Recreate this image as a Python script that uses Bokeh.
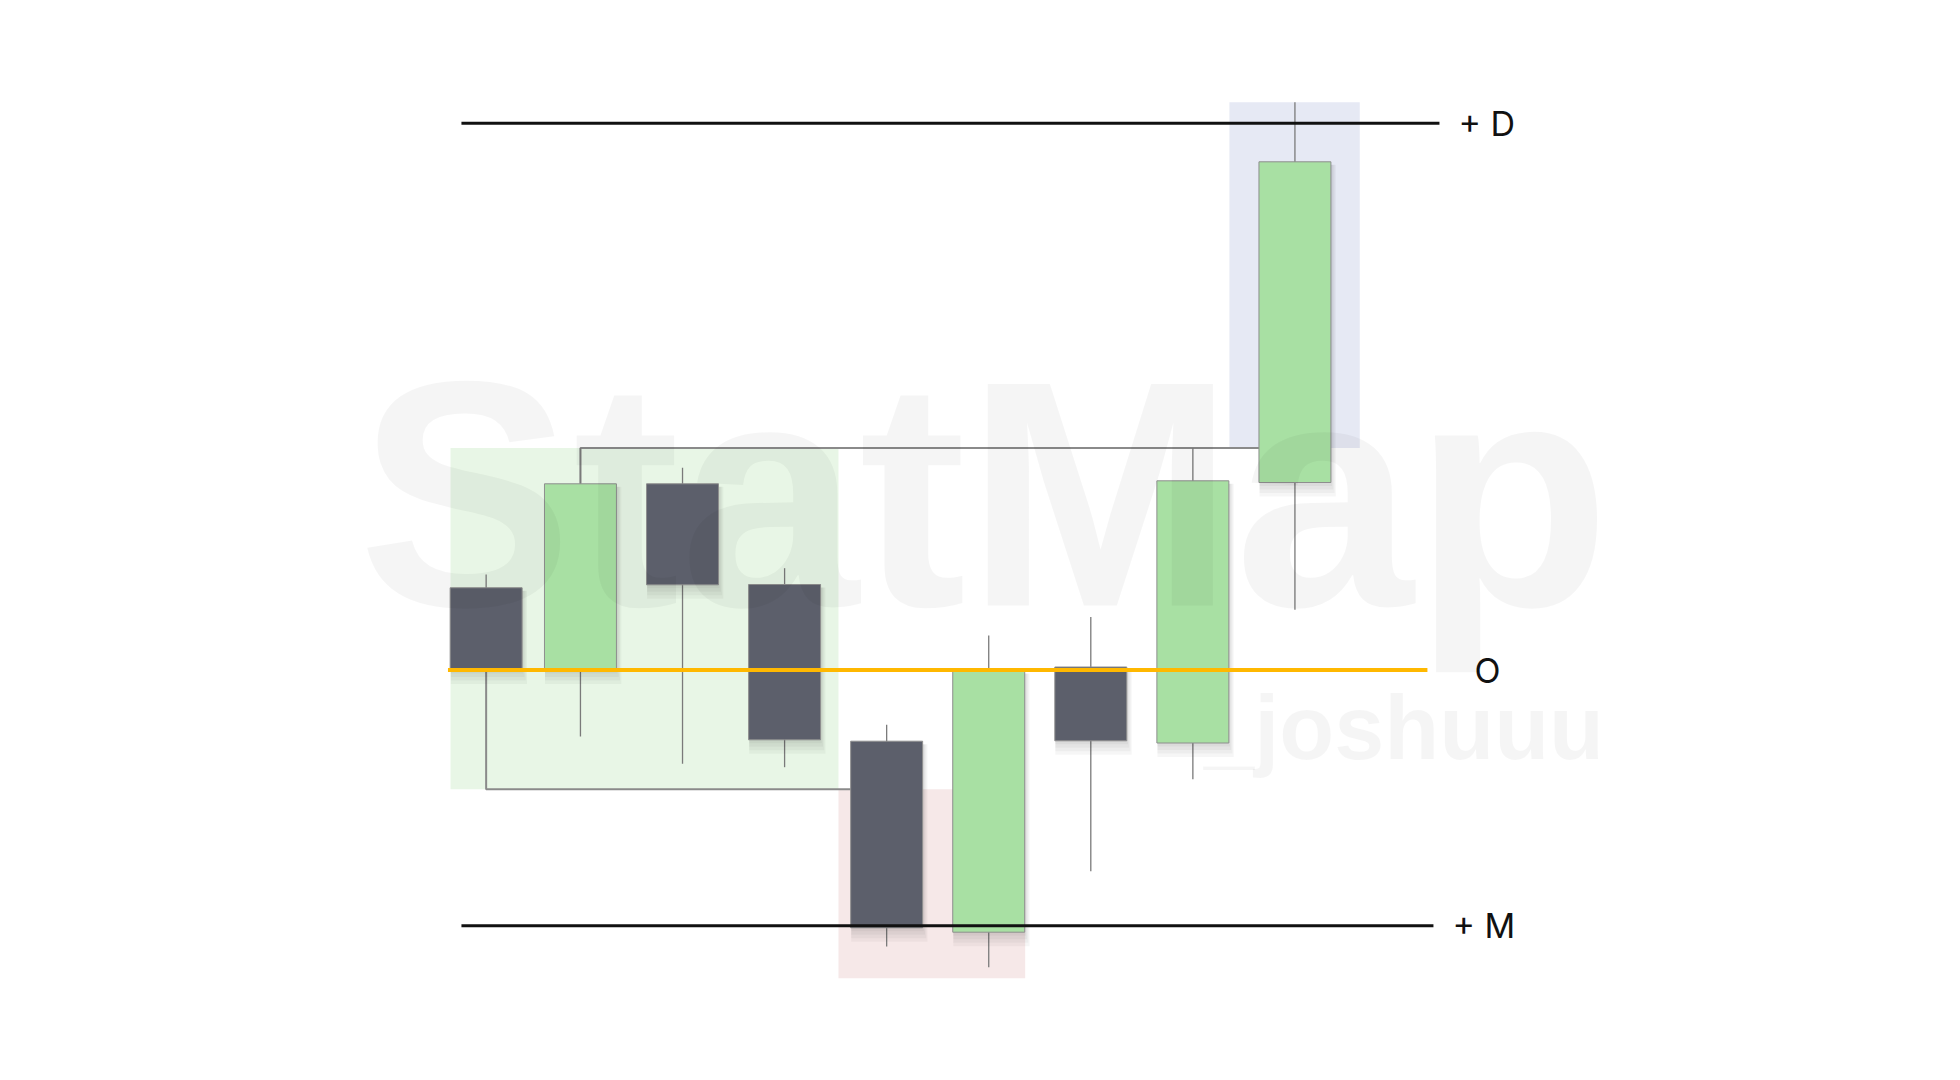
from bokeh.plotting import figure
from bokeh.models import ColumnDataSource, Range1d
from bokeh.core.properties import value
from bokeh.embed import file_html
from bokeh.resources import INLINE

# ---- data (price units; "O" level = 100) ----
slots = [0.076, 1, 2, 3, 4, 5, 6, 7, 8]
opens = [108.22, 100.0, 118.62, 108.55, 92.88, 73.78, 100.30, 92.70, 118.75]
closes = [100.0, 118.62, 108.52, 93.02, 74.22, 99.95, 92.92, 118.92, 150.82]
highs = [109.55, 122.20, 120.22, 110.18, 94.52, 103.45, 105.30, 122.20, 156.78]
lows = [100.0, 93.35, 90.62, 90.28, 72.35, 70.28, 79.88, 89.07, 106.02]

level_names = ["+ D", "O", "+ M"]
level_values = [154.68, 100.0, 74.42]

range_high = 122.20      # top bracket level
range_low = 88.08        # bottom bracket level
sweep_low = 69.18        # pink zone bottom
expansion_top = 156.78   # lavender zone top

watermark_main = "StatMap"
watermark_sub = "_joshuuu"

# ---- styling ----
GREEN = "#a8e0a3"
DARK = "#5c5f6b"
WICK = "#7a7a7a"
BODY_W = 0.705

p = figure(width=1944, height=1064,
           x_range=Range1d(-4.682, 14.364), y_range=Range1d(60.55, 166.95),
           output_backend="svg", toolbar_location=None, min_border=0)
p.axis.visible = False
p.grid.visible = False
p.outline_line_color = None
p.background_fill_color = "white"
p.border_fill_color = "white"

# ---- zones ----
p.quad(left=[-0.273], right=[3.528], bottom=[range_low], top=[range_high],
       fill_color="#e8f6e6", line_color=None)
p.quad(left=[3.528], right=[5.357], bottom=[sweep_low], top=[range_low],
       fill_color="#f6e8e8", line_color=None)
p.quad(left=[7.358], right=[8.635], bottom=[range_high], top=[expansion_top],
       fill_color="#e6e9f4", line_color=None)

# ---- brackets ----
p.line(x=[slots[0], slots[0], slots[4] - BODY_W / 2],
       y=[closes[0], range_low, range_low], line_color="#8a8a8a", line_width=2)
p.line(x=[slots[1], slots[1], slots[8] - BODY_W / 2],
       y=[closes[1], range_high, range_high], line_color="#8a8a8a", line_width=2)

# ---- candles ----
tops = [max(o, c) for o, c in zip(opens, closes)]
bots = [min(o, c) for o, c in zip(opens, closes)]
colors = [GREEN if c > o else DARK for o, c in zip(opens, closes)]
src = ColumnDataSource(dict(x=slots, top=tops, bot=bots, high=highs, low=lows,
                            color=colors,
                            left=[s - BODY_W / 2 for s in slots],
                            right=[s + BODY_W / 2 for s in slots]))

p.segment(x0="x", y0="high", x1="x", y1="low", source=src,
          line_color=WICK, line_width=1.3)

# soft shadow layers
for k in range(1, 5):
    sh = ColumnDataSource(dict(
        left=[s - BODY_W / 2 + 0.005 for s in slots],
        right=[s + BODY_W / 2 + 0.012 * k for s in slots],
        top=[t - 0.3 for t in tops],
        bottom=[b - 0.35 * k for b in bots]))
    p.quad(left="left", right="right", top="top", bottom="bottom", source=sh,
           fill_color="#000000", fill_alpha=0.035, line_color=None)

p.quad(left="left", right="right", top="top", bottom="bot", source=src,
       fill_color="color", line_color="#8e8e8e", line_width=1)

# ---- levels ----
line_x0 = [-0.166, -0.298, -0.166]
line_x1 = [9.416, 9.298, 9.357]
line_colors = ["#111111", "#ffb800", "#111111"]
line_widths = [3, 4, 3]
for x0, x1, yv, lc, lw in zip(line_x0, line_x1, level_values, line_colors, line_widths):
    p.line(x=[x0, x1], y=[yv, yv], line_color=lc, line_width=lw)

p.text(x=[9.602, 9.759, 9.543], y=level_values, text=level_names,
       text_font=value("Inter"), text_font_size="34px", text_color="#111111",
       text_baseline="middle", text_align="left")

# ---- watermark ----
p.text(x=[-1.18], y=[117.6], text=[watermark_main], text_font=value("Liberation Sans"),
       text_font_size="322px", text_font_style="bold", text_color="#000000",
       text_alpha=0.038, text_baseline="alphabetic", text_align="left")
p.text(x=[7.11], y=[94.2], text=[watermark_sub], text_font=value("Liberation Sans"),
       text_font_size="90px", text_font_style="bold", text_color="#000000",
       text_alpha=0.038, text_baseline="alphabetic", text_align="left")

open("out.html", "w").write(file_html(p, INLINE))
